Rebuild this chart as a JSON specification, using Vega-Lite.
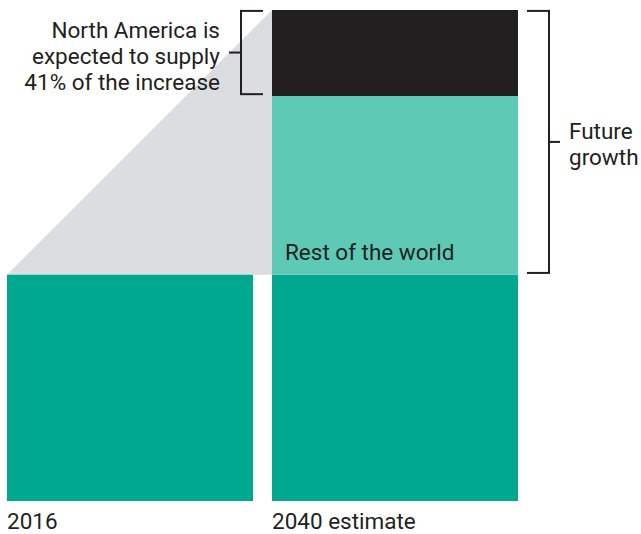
{
  "$schema": "https://vega.github.io/schema/vega-lite/v6.json",
  "width": 641,
  "height": 491,
  "autosize": {"type": "none"},
  "padding": {"left": 0, "top": 10, "right": 0, "bottom": 33},
  "background": "white",
  "config": {
    "view": {"stroke": null},
    "font": "Roboto"
  },
  "data": {
    "values": [
      {"period": "2016", "segment": "Base", "low": 0, "high": 100},
      {"period": "2040 estimate", "segment": "Base", "low": 0, "high": 100},
      {"period": "2040 estimate", "segment": "Rest of the world", "low": 100, "high": 179},
      {"period": "2040 estimate", "segment": "North America", "low": 179, "high": 217}
    ]
  },
  "resolve": {"scale": {"x": "independent"}, "axis": {"x": "independent"}},
  "layer": [
    {
      "data": {"values": [
        {"year": 2016, "total": 100, "base": 100},
        {"year": 2040, "total": 217, "base": 100}
      ]},
      "mark": {"type": "area", "color": "#dcdddf", "interpolate": "linear"},
      "encoding": {
        "x": {"field": "year", "type": "quantitative", "scale": {"domain": [2015.366, 2073.418], "nice": false, "zero": false}, "axis": null},
        "y": {"field": "total", "type": "quantitative", "scale": {"domain": [0, 217], "nice": false, "zero": true}, "axis": null},
        "y2": {"field": "base"}
      }
    },
    {
      "layer": [
        {
          "mark": {"type": "bar"},
          "encoding": {
            "x": {
              "field": "period",
              "type": "ordinal",
              "scale": {"type": "band", "paddingInner": 0.0717, "paddingOuter": 0.2453, "align": 0.0538},
              "axis": {
                "title": null,
                "domain": false,
                "ticks": false,
                "tickSize": 0,
                "labelAlign": "left",
                "labelAngle": 0,
                "labelOffset": -123,
                "labelFont": "Roboto",
                "labelFontSize": 22.5,
                "labelColor": "#231f20",
                "labelPadding": 27,
                "labelBaseline": "alphabetic"
              }
            },
            "y": {
              "field": "low",
              "type": "quantitative",
              "scale": {"domain": [0, 217], "nice": false, "zero": true},
              "axis": null
            },
            "y2": {"field": "high"},
            "color": {
              "field": "segment",
              "type": "nominal",
              "scale": {
                "domain": ["Base", "Rest of the world", "North America"],
                "range": ["#00a88f", "#5ec9b5", "#231f20"]
              },
              "legend": null
            }
          }
        },
        {
          "data": {"values": [{"label": "Rest of the world"}]},
          "mark": {"type": "text", "align": "left", "baseline": "middle", "dx": 13, "font": "Roboto", "fontSize": 22.5, "color": "#231f20"},
          "encoding": {
            "x": {"datum": "2040 estimate", "bandPosition": 0},
            "y": {"datum": 109.4},
            "text": {"field": "label"}
          }
        },
        {
          "data": {"values": [{"label": "North America is\nexpected to supply\n41% of the increase"}]},
          "mark": {"type": "text", "align": "right", "baseline": "middle", "dx": -52, "lineBreak": "\n", "lineHeight": 26, "font": "Roboto", "fontSize": 22.5, "color": "#231f20"},
          "encoding": {
            "x": {"datum": "2040 estimate", "bandPosition": 0},
            "y": {"datum": 207.8},
            "text": {"field": "label"}
          }
        },
        {
          "data": {"values": [{"label": "Future\ngrowth"}]},
          "mark": {"type": "text", "align": "left", "baseline": "middle", "dx": 297, "lineBreak": "\n", "lineHeight": 26, "font": "Roboto", "fontSize": 22.5, "color": "#231f20"},
          "encoding": {
            "x": {"datum": "2040 estimate", "bandPosition": 0},
            "y": {"datum": 163},
            "text": {"field": "label"}
          }
        },
        {
          "data": {"values": [{}]},
          "mark": {"type": "rule", "color": "#231f20", "strokeWidth": 2, "xOffset": -31},
          "encoding": {
            "x": {"datum": "2040 estimate", "bandPosition": 0},
            "y": {"datum": 216.6},
            "y2": {"datum": 179.8}
          }
        },
        {
          "data": {"values": [{"at": 216.6}, {"at": 179.8}]},
          "mark": {"type": "rule", "color": "#231f20", "strokeWidth": 2, "xOffset": -32, "x2Offset": -9},
          "encoding": {
            "x": {"datum": "2040 estimate", "bandPosition": 0},
            "x2": {"datum": "2040 estimate", "bandPosition": 0},
            "y": {"field": "at", "type": "quantitative"}
          }
        },
        {
          "data": {"values": [{}]},
          "mark": {"type": "rule", "color": "#231f20", "strokeWidth": 2, "xOffset": -43, "x2Offset": -31},
          "encoding": {
            "x": {"datum": "2040 estimate", "bandPosition": 0},
            "x2": {"datum": "2040 estimate", "bandPosition": 0},
            "y": {"datum": 198.2}
          }
        },
        {
          "data": {"values": [{}]},
          "mark": {"type": "rule", "color": "#231f20", "strokeWidth": 2, "xOffset": 277},
          "encoding": {
            "x": {"datum": "2040 estimate", "bandPosition": 0},
            "y": {"datum": 216.6},
            "y2": {"datum": 100.8}
          }
        },
        {
          "data": {"values": [{"at": 216.6}, {"at": 100.8}]},
          "mark": {"type": "rule", "color": "#231f20", "strokeWidth": 2, "xOffset": 255, "x2Offset": 278},
          "encoding": {
            "x": {"datum": "2040 estimate", "bandPosition": 0},
            "x2": {"datum": "2040 estimate", "bandPosition": 0},
            "y": {"field": "at", "type": "quantitative"}
          }
        },
        {
          "data": {"values": [{}]},
          "mark": {"type": "rule", "color": "#231f20", "strokeWidth": 2, "xOffset": 277, "x2Offset": 288},
          "encoding": {
            "x": {"datum": "2040 estimate", "bandPosition": 0},
            "x2": {"datum": "2040 estimate", "bandPosition": 0},
            "y": {"datum": 158.7}
          }
        }
      ]
    }
  ]
}
